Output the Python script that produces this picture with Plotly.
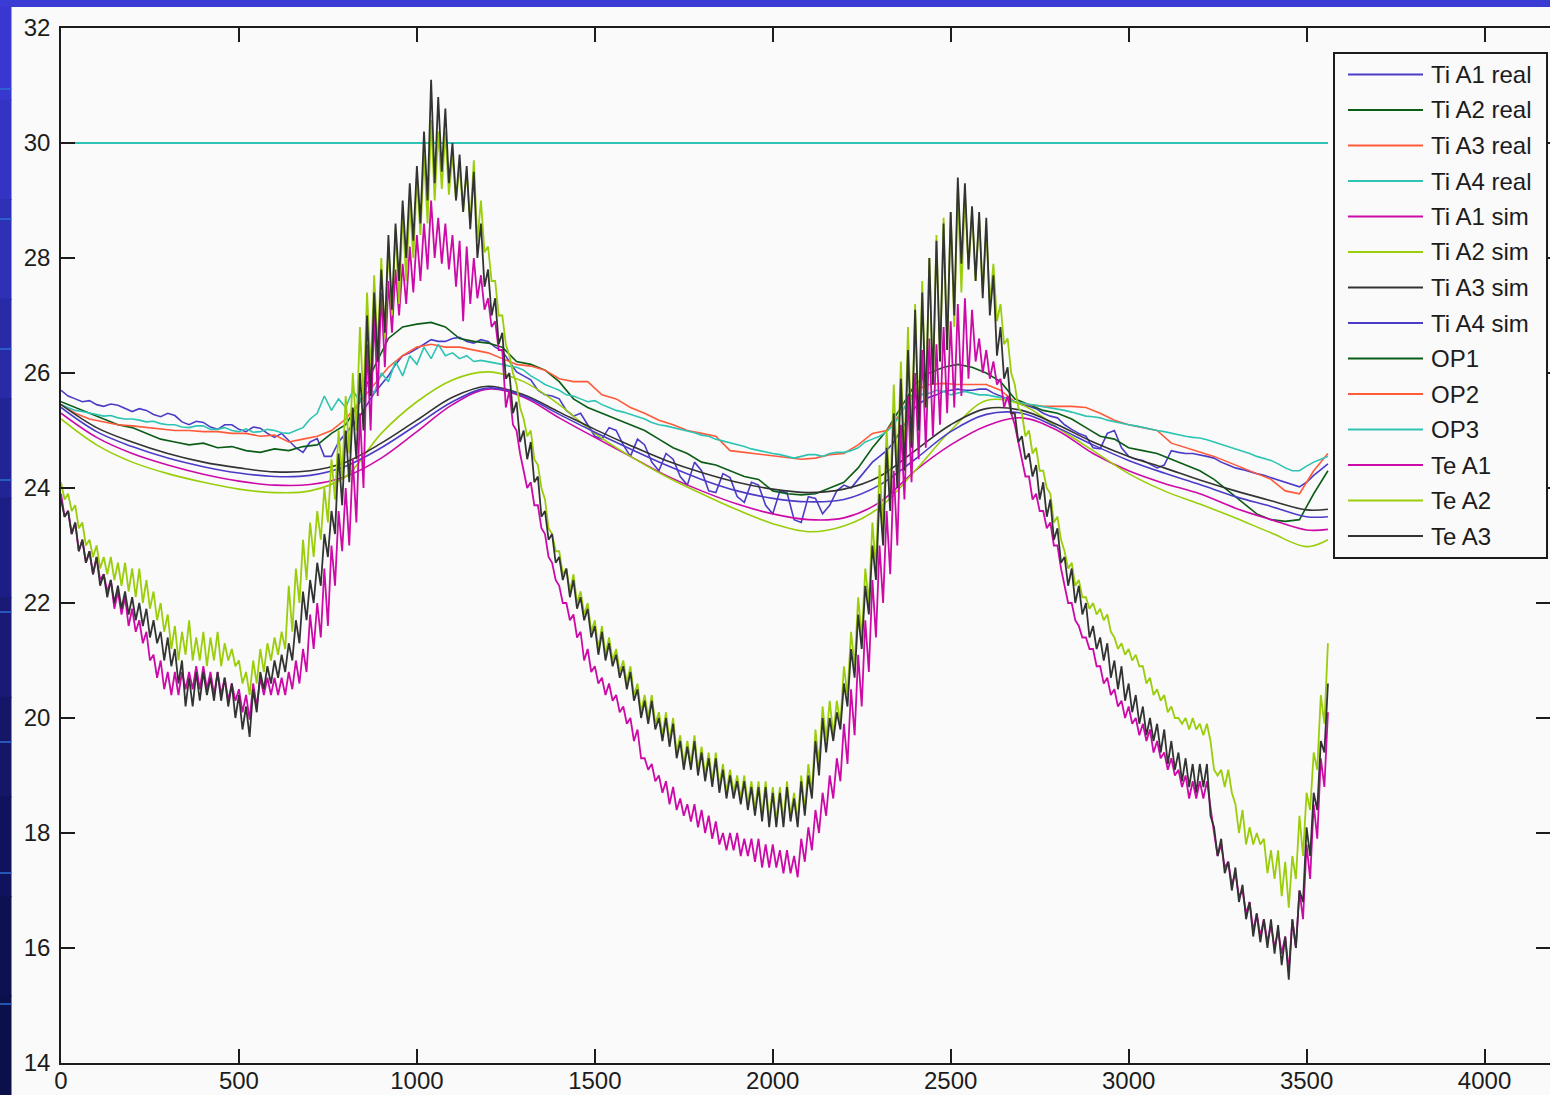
import plotly.graph_objects as go

# ---------------------------------------------------------------- data
names = ["Ti A1 real", "Ti A2 real", "Ti A3 real", "Ti A4 real",
         "Ti A1 sim", "Ti A2 sim", "Ti A3 sim", "Ti A4 sim",
         "OP1", "OP2", "OP3", "Te A1", "Te A2", "Te A3"]

# sample positions
x_te = list(range(0, 3561, 10))
x_fine = list(range(0, 3561, 20))
x_real = list(range(0, 3561, 40))
x_sim = list(range(0, 3501, 100)) + [3560]
x_op = [0, 3560]

# measured indoor temperatures
ti_a1_real = [25.70, 25.60, 25.55, 25.50, 25.52, 25.45, 25.42, 25.46, 25.44, 25.38,
              25.33, 25.38, 25.35, 25.28, 25.24, 25.30, 25.26, 25.15, 25.10, 25.16,
              25.14, 25.06, 25.02, 25.10, 25.10, 25.02, 24.98, 25.06, 25.04, 24.95,
              24.88, 24.95, 24.82, 24.70, 24.62, 24.80, 24.86, 24.55, 24.55, 24.80,
              24.95, 25.10, 25.25, 25.45, 25.65, 25.80, 25.95, 26.15, 26.30, 26.35,
              26.42, 26.50, 26.58, 26.55, 26.55, 26.60, 26.62, 26.55, 26.52, 26.58,
              26.55, 26.45, 26.38, 26.20, 26.02, 25.95, 25.88, 25.70, 25.62, 25.60,
              25.55, 25.35, 25.25, 25.30, 25.10, 24.90, 24.85, 25.05, 25.00, 24.75,
              24.55, 24.85, 24.75, 24.45, 24.30, 24.60, 24.50, 24.20, 24.05, 24.45,
              24.30, 23.95, 23.92, 24.25, 24.18, 23.85, 23.75, 24.10, 24.05, 23.70,
              23.55, 23.95, 23.92, 23.45, 23.40, 23.85, 23.82, 23.55, 23.70, 23.95,
              24.05, 24.00, 24.15, 24.30, 24.45, 24.55, 24.65, 24.80, 25.00, 25.20,
              25.40, 25.50, 25.58, 25.62, 25.68, 25.70, 25.72, 25.70, 25.70, 25.72,
              25.72, 25.65, 25.60, 25.55, 25.50, 25.45, 25.42, 25.38, 25.30, 25.25,
              25.22, 25.10, 25.02, 24.95, 24.90, 24.70, 24.68, 24.95, 25.00, 24.70,
              24.55, 24.50, 24.48, 24.42, 24.35, 24.40, 24.65, 24.62, 24.60, 24.60,
              24.58, 24.55, 24.52, 24.45, 24.40, 24.35, 24.32, 24.28, 24.25, 24.22,
              24.18, 24.14, 24.10, 24.06, 24.02, 24.10, 24.22, 24.32, 24.42]

ti_a2_real = [25.50, 25.40, 25.30, 25.20, 25.10, 25.05, 24.95, 24.85, 24.80, 24.75,
              24.78, 24.70, 24.72, 24.65, 24.62, 24.68, 24.65, 24.72, 24.75, 24.95,
              25.10, 25.50, 26.10, 26.60, 26.80, 26.85, 26.88, 26.80, 26.60, 26.55,
              26.52, 26.45, 26.20, 26.15, 26.05, 25.85, 25.55, 25.40, 25.30, 25.20,
              25.10, 25.00, 24.85, 24.70, 24.60, 24.45, 24.40, 24.30, 24.20, 24.15,
              23.95, 23.90, 23.88, 23.90, 24.00, 24.10, 24.35, 24.70, 25.00, 25.40,
              25.80, 26.00, 26.10, 26.15, 26.10, 26.00, 25.85, 25.55, 25.45, 25.35,
              25.30, 25.20, 25.05, 24.90, 24.85, 24.70, 24.65, 24.60, 24.50, 24.40,
              24.30, 24.15, 23.95, 23.75, 23.55, 23.45, 23.42, 23.45, 23.90, 24.30]

ti_a3_real = [25.45, 25.30, 25.20, 25.15, 25.10, 25.08, 25.05, 25.02, 25.00, 25.00,
              24.98, 24.98, 24.95, 24.95, 24.90, 24.92, 24.80, 24.85, 24.90, 25.00,
              25.20, 25.50, 25.80, 26.10, 26.30, 26.45, 26.50, 26.45, 26.45, 26.40,
              26.35, 26.25, 26.15, 26.12, 26.05, 25.90, 25.85, 25.85, 25.62, 25.55,
              25.40, 25.30, 25.18, 25.10, 25.00, 24.95, 24.90, 24.65, 24.62, 24.58,
              24.55, 24.52, 24.50, 24.52, 24.58, 24.60, 24.75, 24.95, 25.00, 25.30,
              25.70, 25.80, 25.82, 25.80, 25.80, 25.80, 25.70, 25.50, 25.45, 25.42,
              25.42, 25.42, 25.40, 25.30, 25.18, 25.10, 25.05, 25.00, 24.78, 24.70,
              24.63, 24.55, 24.45, 24.35, 24.25, 24.15, 23.95, 23.90, 24.30, 24.60]

ti_a4_real = [25.45, 25.40, 25.35, 25.33, 25.30, 25.28, 25.25, 25.26, 25.22, 25.20,
              25.20, 25.18, 25.15, 25.16, 25.12, 25.10, 25.10, 25.06, 25.05, 25.08,
              25.08, 25.02, 25.02, 25.05, 25.00, 24.98, 25.03, 24.97, 24.98, 25.02,
              25.00, 24.96, 24.95, 25.00, 25.05, 25.20, 25.30, 25.60, 25.35, 25.55,
              25.40, 25.70, 25.50, 25.80, 25.65, 26.00, 25.85, 26.20, 25.95, 26.30,
              26.15, 26.45, 26.25, 26.50, 26.30, 26.35, 26.25, 26.30, 26.20, 26.22,
              26.20, 26.18, 26.15, 26.12, 26.10, 26.05, 25.95, 25.88, 25.80, 25.75,
              25.70, 25.62, 25.60, 25.55, 25.50, 25.52, 25.45, 25.40, 25.35, 25.32,
              25.28, 25.25, 25.20, 25.14, 25.10, 25.08, 25.05, 25.02, 25.00, 24.96,
              24.92, 24.90, 24.85, 24.82, 24.78, 24.75, 24.72, 24.68, 24.65, 24.62,
              24.60, 24.58, 24.55, 24.52, 24.55, 24.58, 24.58, 24.55, 24.60, 24.62,
              24.62, 24.65, 24.70, 24.80, 24.85, 24.90, 24.98, 25.10, 25.30, 25.50,
              25.60, 25.62, 25.65, 25.70, 25.68, 25.62, 25.65, 25.68, 25.65, 25.62,
              25.62, 25.60, 25.58, 25.55, 25.50, 25.48, 25.45, 25.44, 25.42, 25.40,
              25.38, 25.35, 25.32, 25.28, 25.25, 25.24, 25.22, 25.18, 25.15, 25.12,
              25.10, 25.08, 25.05, 25.02, 25.00, 24.98, 24.95, 24.92, 24.90, 24.88,
              24.87, 24.84, 24.80, 24.76, 24.72, 24.68, 24.65, 24.60, 24.55, 24.52,
              24.48, 24.42, 24.35, 24.30, 24.30, 24.38, 24.45, 24.50, 24.55]

# simulated indoor temperatures
ti_a1_sim = [25.30, 24.88, 24.60, 24.40, 24.24, 24.12, 24.05, 24.06, 24.20, 24.52,
             24.98, 25.45, 25.72, 25.58, 25.22, 24.88, 24.55, 24.22, 23.95, 23.72,
             23.55, 23.45, 23.48, 23.75, 24.30, 24.75, 25.08, 25.22, 25.00, 24.60,
             24.30, 24.08, 23.90, 23.65, 23.45, 23.27, 23.28]
ti_a2_sim = [25.20, 24.75, 24.45, 24.25, 24.10, 23.98, 23.92, 23.95, 24.20, 24.95,
             25.50, 25.88, 26.02, 25.85, 25.45, 24.95, 24.55, 24.20, 23.90, 23.62,
             23.38, 23.24, 23.34, 23.66, 24.30, 25.00, 25.52, 25.45, 25.05, 24.65,
             24.25, 23.95, 23.72, 23.48, 23.22, 22.98, 23.10]
ti_a3_sim = [25.45, 25.05, 24.80, 24.60, 24.45, 24.35, 24.28, 24.30, 24.45, 24.78,
             25.18, 25.58, 25.77, 25.62, 25.32, 25.02, 24.74, 24.48, 24.27, 24.10,
             23.98, 23.92, 23.98, 24.20, 24.65, 25.10, 25.38, 25.35, 25.10, 24.80,
             24.55, 24.35, 24.14, 23.95, 23.78, 23.62, 23.63]
ti_a4_sim = [25.40, 24.98, 24.72, 24.52, 24.37, 24.26, 24.20, 24.22, 24.38, 24.70,
             25.10, 25.50, 25.74, 25.60, 25.28, 24.97, 24.68, 24.40, 24.15, 23.95,
             23.82, 23.76, 23.80, 24.05, 24.50, 24.98, 25.28, 25.30, 25.05, 24.75,
             24.48, 24.26, 24.06, 23.85, 23.68, 23.50, 23.50]

# set points
op1 = [30.0, 30.0]
op2 = [30.0, 30.0]
op3 = [30.0, 30.0]

# outdoor temperatures
te_a1 = [23.9, 23.5, 23.6, 23.2, 23.4, 22.9, 23.1, 22.7, 22.9, 22.5, 22.8, 22.4, 22.5, 22.2, 22.4, 21.9, 22.2, 21.8, 22.1, 21.6,
         21.9, 21.5, 21.7, 21.3, 21.5, 21.0, 21.1, 20.7, 21.0, 20.5, 20.8, 20.4, 20.8, 20.4, 20.8, 20.5, 20.8, 20.5, 20.9, 20.5,
         20.9, 20.5, 20.8, 20.4, 20.8, 20.4, 20.7, 20.3, 20.6, 20.3, 20.5, 20.1, 20.4, 19.97, 20.6, 20.2, 20.7, 20.4, 20.7, 20.4,
         20.7, 20.4, 20.7, 20.4, 20.8, 20.5, 21.0, 20.6, 21.2, 20.8, 21.8, 21.2, 22.0, 21.4, 22.6, 21.6, 23.0, 22.3, 23.6, 22.9,
         24.0, 23.0, 24.5, 23.4, 25.3, 24.0, 26.5, 25.0, 27.0, 25.6, 27.4, 26.1, 27.6, 26.7, 27.8, 27.0, 27.9, 27.2, 28.2, 27.4,
         28.4, 27.6, 28.6, 27.8, 29.0, 28.0, 28.7, 27.9, 28.6, 27.8, 28.4, 27.5, 28.3, 26.9, 28.2, 27.2, 28.0, 27.3, 27.7, 27.1,
         27.3, 26.8, 26.9, 26.4, 26.4, 25.4, 25.7, 25.1, 25.0, 24.6, 24.3, 24.0, 24.1, 23.7, 23.7, 23.3, 23.2, 22.8, 22.7, 22.4,
         22.3, 22.0, 22.0, 21.7, 21.8, 21.4, 21.5, 21.0, 21.2, 20.8, 20.9, 20.6, 20.7, 20.4, 20.6, 20.3, 20.4, 20.1, 20.2, 19.9,
         20.0, 19.6, 19.8, 19.3, 19.3, 19.1, 19.2, 18.9, 19.0, 18.7, 18.9, 18.5, 18.8, 18.4, 18.6, 18.3, 18.5, 18.2, 18.5, 18.1,
         18.4, 18.0, 18.3, 17.9, 18.2, 17.8, 18.0, 17.7, 18.0, 17.7, 18.0, 17.6, 17.9, 17.6, 17.9, 17.5, 17.9, 17.4, 17.8, 17.4,
         17.8, 17.4, 17.7, 17.3, 17.7, 17.3, 17.6, 17.23, 17.9, 17.5, 18.1, 17.7, 18.4, 18.0, 18.7, 18.3, 19.0, 18.6, 19.3, 18.9,
         19.9, 19.2, 20.5, 19.7, 21.1, 20.2, 21.7, 20.8, 22.4, 21.4, 23.0, 22.0, 23.6, 22.5, 24.3, 23.0, 25.1, 23.8, 25.6, 24.1,
         26.0, 24.5, 26.4, 24.7, 26.6, 24.9, 26.5, 25.1, 26.8, 25.3, 26.9, 25.4, 27.2, 25.6, 27.3, 25.9, 27.1, 26.2, 26.6, 26.0,
         26.4, 25.9, 26.2, 25.8, 25.9, 25.4, 25.6, 25.3, 25.1, 24.8, 24.5, 24.2, 24.2, 23.8, 23.9, 23.6, 23.6, 23.3, 23.4, 23.0,
         23.0, 22.6, 22.3, 22.0, 22.0, 21.7, 21.6, 21.4, 21.4, 21.2, 21.2, 20.9, 20.9, 20.6, 20.7, 20.4, 20.5, 20.2, 20.3, 20.0,
         20.2, 19.9, 20.0, 19.7, 19.9, 19.6, 19.8, 19.4, 19.6, 19.3, 19.4, 19.1, 19.3, 19.0, 19.1, 18.8, 19.0, 18.6, 18.9, 18.6,
         18.9, 18.6, 18.9, 18.4, 18.0, 17.6, 17.8, 17.4, 17.5, 17.1, 17.3, 16.9, 17.0, 16.6, 16.8, 16.3, 16.6, 16.2, 16.5, 16.1,
         16.4, 16.0, 16.3, 15.9, 16.2, 15.6, 16.5, 16.0, 17.0, 16.5, 17.8, 17.2, 18.5, 17.9, 19.3, 18.8, 20.1]

te_a2 = [24.1, 23.8, 23.9, 23.6, 23.7, 23.3, 23.4, 23.0, 23.1, 22.8, 23.0, 22.6, 22.8, 22.5, 22.8, 22.4, 22.7, 22.3, 22.7, 22.2,
         22.6, 22.1, 22.6, 22.0, 22.4, 21.9, 22.2, 21.7, 22.0, 21.5, 21.8, 21.2, 21.6, 21.0, 21.5, 21.1, 21.7, 21.0, 21.4, 21.0,
         21.5, 20.9, 21.4, 21.0, 21.5, 20.9, 21.3, 21.0, 21.2, 20.9, 21.0, 20.6, 20.8, 20.4, 21.0, 20.6, 21.2, 20.8, 21.3, 21.0,
         21.4, 21.1, 21.5, 21.2, 22.3, 21.5, 22.6, 22.0, 23.1, 22.4, 23.4, 22.8, 23.6, 23.1, 24.0, 23.4, 24.5, 23.8, 25.0, 24.2,
         25.6, 24.6, 26.0, 25.0, 26.8, 25.5, 27.4, 26.0, 27.7, 26.4, 28.0, 26.6, 28.2, 27.0, 28.5, 27.2, 28.8, 27.6, 29.0, 28.0,
         29.4, 28.4, 29.8, 28.6, 30.4, 29.0, 30.2, 29.2, 30.2, 29.1, 29.8, 29.0, 29.6, 28.8, 29.5, 28.6, 29.7, 28.3, 29.0, 28.1,
         28.2, 27.6, 27.6, 27.0, 27.0, 26.5, 26.3, 26.0, 25.8, 25.4, 25.2, 24.9, 25.0, 24.5, 24.4, 24.0, 23.8, 23.3, 23.2, 22.9,
         22.9, 22.5, 22.6, 22.2, 22.5, 22.0, 22.2, 21.8, 22.0, 21.5, 21.7, 21.2, 21.6, 21.1, 21.4, 21.0, 21.2, 20.8, 21.0, 20.6,
         20.9, 20.4, 20.6, 20.1, 20.4, 20.0, 20.4, 19.9, 20.1, 19.7, 20.1, 19.6, 20.0, 19.4, 19.7, 19.2, 19.6, 19.2, 19.7, 19.1,
         19.5, 19.0, 19.4, 18.9, 19.4, 18.8, 19.2, 18.7, 19.1, 18.7, 19.0, 18.6, 19.0, 18.5, 18.9, 18.4, 18.9, 18.3, 18.9, 18.2,
         18.8, 18.2, 18.8, 18.2, 18.9, 18.3, 18.7, 18.2, 19.0, 18.4, 19.2, 18.7, 19.8, 19.2, 20.2, 19.6, 20.3, 19.7, 20.3, 19.9,
         20.9, 20.4, 21.5, 20.9, 22.1, 21.4, 22.6, 22.0, 23.4, 22.6, 24.4, 23.3, 25.0, 23.8, 25.8, 24.2, 26.2, 24.5, 26.8, 24.8,
         27.2, 25.2, 27.6, 25.4, 28.0, 25.8, 28.4, 26.2, 28.7, 26.4, 28.8, 26.8, 29.2, 27.4, 29.1, 27.8, 28.8, 27.6, 28.7, 27.4,
         28.5, 27.2, 27.9, 26.9, 27.2, 26.5, 26.6, 26.0, 25.8, 25.4, 25.3, 24.9, 25.0, 24.6, 24.7, 24.3, 24.3, 24.0, 23.9, 23.4,
         23.5, 23.1, 22.9, 22.6, 22.7, 22.3, 22.4, 22.1, 22.1, 21.9, 22.0, 21.8, 21.9, 21.7, 21.8, 21.5, 21.4, 21.2, 21.3, 21.1,
         21.2, 21.0, 21.1, 20.9, 20.9, 20.6, 20.7, 20.4, 20.5, 20.3, 20.4, 20.1, 20.2, 20.0, 20.0, 19.9, 20.0, 19.8, 20.0, 19.8,
         19.9, 19.7, 19.9, 19.6, 19.1, 19.0, 19.1, 18.8, 19.1, 18.7, 18.5, 18.0, 18.4, 17.8, 18.1, 17.8, 18.0, 17.8, 17.9, 17.3,
         17.7, 17.2, 17.7, 16.9, 17.5, 16.7, 17.6, 17.2, 18.3, 17.6, 18.7, 18.4, 19.4, 19.1, 20.4, 19.9, 21.3]

te_a3 = [23.8, 23.5, 23.6, 23.2, 23.4, 22.9, 23.1, 22.7, 22.9, 22.5, 22.8, 22.3, 22.5, 22.1, 22.4, 22.0, 22.3, 21.9, 22.2, 21.8,
         22.1, 21.7, 22.0, 21.6, 21.9, 21.4, 21.7, 21.3, 21.5, 21.0, 21.4, 20.9, 21.2, 20.6, 21.0, 20.2, 20.7, 20.2, 20.8, 20.3,
         20.8, 20.4, 20.7, 20.3, 20.8, 20.3, 20.7, 20.2, 20.6, 20.0, 20.4, 19.8, 20.2, 19.67, 20.5, 20.1, 20.8, 20.5, 20.9, 20.6,
         21.0, 20.7, 21.1, 20.8, 21.3, 21.0, 21.7, 21.3, 22.2, 21.7, 22.4, 22.0, 22.7, 22.3, 23.2, 22.8, 23.6, 23.2, 24.6, 23.7,
         25.0, 24.1, 25.4, 24.5, 26.0, 25.0, 27.0, 25.6, 27.4, 26.2, 27.8, 26.7, 28.4, 27.1, 28.6, 27.6, 29.0, 28.0, 29.3, 28.3,
         29.6, 28.6, 30.2, 29.0, 31.1, 29.3, 30.8, 29.5, 30.6, 29.3, 30.0, 29.0, 29.8, 28.8, 29.6, 28.5, 29.5, 28.0, 28.6, 27.5,
         27.8, 27.0, 27.3, 26.5, 26.7, 25.9, 26.0, 25.3, 25.5, 24.8, 25.0, 24.5, 24.8, 24.1, 24.2, 23.5, 23.6, 23.1, 23.2, 22.7,
         22.8, 22.4, 22.6, 22.1, 22.4, 21.9, 22.1, 21.7, 21.9, 21.4, 21.6, 21.1, 21.5, 21.0, 21.3, 20.9, 21.1, 20.7, 20.9, 20.5,
         20.8, 20.3, 20.5, 20.0, 20.3, 19.9, 20.3, 19.8, 20.0, 19.6, 20.0, 19.5, 19.9, 19.3, 19.6, 19.1, 19.5, 19.1, 19.6, 19.0,
         19.4, 18.9, 19.3, 18.8, 19.3, 18.7, 19.1, 18.6, 19.0, 18.6, 18.9, 18.5, 18.9, 18.4, 18.8, 18.3, 18.8, 18.2, 18.8, 18.1,
         18.7, 18.1, 18.7, 18.1, 18.8, 18.2, 18.6, 18.1, 18.9, 18.3, 19.0, 18.6, 19.6, 19.0, 20.0, 19.4, 20.0, 19.6, 20.1, 19.8,
         20.6, 20.2, 21.2, 20.7, 21.8, 21.2, 22.3, 21.8, 23.0, 22.4, 23.9, 23.0, 24.7, 23.6, 25.3, 24.0, 25.9, 24.3, 26.4, 24.7,
         27.1, 25.0, 27.4, 25.4, 28.0, 25.8, 28.3, 26.2, 28.6, 26.4, 28.8, 27.0, 29.4, 27.9, 29.3, 27.8, 28.9, 27.6, 28.8, 27.3,
         28.7, 27.0, 27.7, 26.3, 26.8, 25.9, 26.1, 25.3, 25.3, 24.8, 24.9, 24.5, 24.6, 24.2, 24.4, 23.8, 24.1, 23.5, 23.8, 23.1,
         23.3, 22.7, 22.8, 22.3, 22.6, 22.0, 22.3, 21.8, 22.0, 21.4, 21.6, 21.2, 21.4, 21.0, 21.3, 20.7, 21.0, 20.5, 20.9, 20.3,
         20.6, 20.1, 20.4, 19.9, 20.2, 19.7, 20.0, 19.6, 19.9, 19.4, 19.8, 19.2, 19.6, 19.1, 19.4, 18.9, 19.3, 18.8, 19.2, 18.7,
         19.2, 18.8, 19.2, 18.3, 18.1, 17.6, 17.9, 17.3, 17.5, 17.0, 17.4, 16.8, 17.1, 16.5, 16.8, 16.2, 16.6, 16.1, 16.5, 16.0,
         16.5, 15.9, 16.4, 15.7, 16.2, 15.45, 16.5, 16.0, 17.0, 16.8, 18.1, 17.6, 18.7, 18.4, 19.6, 19.4, 20.6]

# ---------------------------------------------------------------- style
BLUE = "#4b3cc8"
GREEN = "#0a5c16"
ORANGE = "#ff5a3a"
CYAN = "#2ec4b4"
MAGENTA = "#cc0aa8"
LIME = "#9acd0a"
DARK = "#323432"
INK = "#1c1c1c"
FONT = "Liberation Sans, Arial, sans-serif"

colors = [BLUE, GREEN, ORANGE, CYAN, MAGENTA, LIME, DARK, BLUE,
          GREEN, ORANGE, CYAN, MAGENTA, LIME, DARK]

# (x, y, line shape, line width)
series = [
    (x_fine, ti_a1_real, "linear", 1.6),
    (x_real, ti_a2_real, "linear", 1.6),
    (x_real, ti_a3_real, "linear", 1.6),
    (x_fine, ti_a4_real, "linear", 1.6),
    (x_sim, ti_a1_sim, "spline", 1.6),
    (x_sim, ti_a2_sim, "spline", 1.6),
    (x_sim, ti_a3_sim, "spline", 1.6),
    (x_sim, ti_a4_sim, "spline", 1.6),
    (x_op, op1, "linear", 1.2),
    (x_op, op2, "linear", 1.2),
    (x_op, op3, "linear", 2.2),
    (x_te, te_a1, "linear", 1.8),
    (x_te, te_a2, "linear", 1.8),
    (x_te, te_a3, "linear", 1.8),
]

# ---------------------------------------------------------------- geometry
W, H = 1550, 1095
ML, MR, MT, MB = 61, 0, 28, 32
PW, PH = W - ML - MR, H - MT - MB


def fx(p):
    return (p - ML) / PW


def fy(p):
    return (H - MB - p) / PH


fig = go.Figure()
for name, col, (xs, ys, shp, lw) in zip(names, colors, series):
    fig.add_trace(go.Scatter(
        x=xs, y=ys, mode="lines", name=name, showlegend=False,
        hoverinfo="skip", line=dict(color=col, width=lw, shape=shp)))

shapes = []
annotations = []

# slide backdrop: blue band on the left and along the top
band = ["#3838d0", "#3434c4", "#2e30b6", "#282aa6", "#222496", "#1c1e86",
        "#181a76", "#141668", "#10135c", "#0d1152", "#0b0f4a"]
step = H / len(band)
for i, c in enumerate(band):
    shapes.append(dict(type="rect", xref="paper", yref="paper",
                       x0=fx(0), x1=fx(11.5), y0=fy((i + 1) * step + 1), y1=fy(i * step),
                       line=dict(width=0), fillcolor=c, layer="above"))
shapes.append(dict(type="rect", xref="paper", yref="paper",
                   x0=fx(0), x1=fx(W), y0=fy(7), y1=fy(0),
                   line=dict(width=0), fillcolor="#3a3ad4", layer="above"))
for yy in [89, 219, 349, 480, 612, 742, 873, 1004]:
    shapes.append(dict(type="line", xref="paper", yref="paper",
                       x0=fx(0), x1=fx(11.5), y0=fy(yy), y1=fy(yy),
                       line=dict(color="#2e6ed4", width=1.5), layer="above"))

# legend box
LX0, LX1, LY0, LY1 = 1334, 1547, 53, 558
shapes.append(dict(type="rect", xref="paper", yref="paper",
                   x0=fx(LX0), x1=fx(LX1), y0=fy(LY1), y1=fy(LY0),
                   line=dict(color=INK, width=2), fillcolor="#fafafa", layer="above"))
row0, row_h = 74.5, 35.5
for i, (name, col) in enumerate(zip(names, colors)):
    yy = row0 + i * row_h
    shapes.append(dict(type="line", xref="paper", yref="paper",
                       x0=fx(1348), x1=fx(1423), y0=fy(yy), y1=fy(yy),
                       line=dict(color=col, width=2), layer="above"))
    annotations.append(dict(xref="paper", yref="paper", x=fx(1429), y=fy(yy),
                            xanchor="left", yanchor="middle", text=name,
                            showarrow=False, font=dict(family=FONT, size=24, color=INK)))

axis_common = dict(
    ticks="inside", ticklen=14, tickwidth=1.5, tickcolor=INK,
    showline=True, linecolor=INK, linewidth=1.5, mirror="ticks",
    showgrid=False, zeroline=False, automargin=False,
    tickfont=dict(family=FONT, size=24, color=INK),
)

fig.update_layout(
    width=W, height=H,
    margin=dict(l=ML, r=MR, t=MT, b=MB, pad=0, autoexpand=False),
    paper_bgcolor="#fafafa", plot_bgcolor="#fafafa",
    xaxis=dict(range=[0, 4184], tickvals=list(range(0, 4001, 500)),
               ticklabelstandoff=-5, **axis_common),
    yaxis=dict(range=[14, 32], tickvals=list(range(14, 33, 2)),
               ticklabelstandoff=4, **axis_common),
    shapes=shapes, annotations=annotations,
    showlegend=False,
)

fig.write_html("out.html")
